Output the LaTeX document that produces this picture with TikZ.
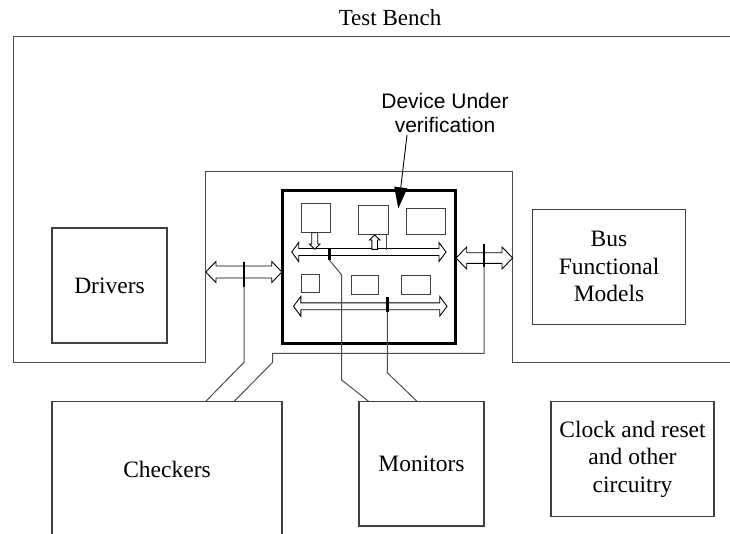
\documentclass[tikz,border=0pt]{standalone}
\usepackage{fontspec}
\setmainfont{Liberation Serif}
\newfontfamily\duvfont{Liberation Sans}
\usetikzlibrary{arrows.meta}

\tikzset{
  blk/.style={draw=black!75,line width=1.1pt,inner sep=0pt,align=center,font=\fontsize{23.5}{27.5}\selectfont},
  sub/.style={draw=black!75,line width=1pt,inner sep=0pt},
  wire/.style={black!70,line width=1pt},
  tickmark/.style={line width=2.6pt},
  hollow/.style={draw=black,fill=white,line width=0.9pt,line join=miter},
}

% hollow double arrow: x1, x2, y centre, shaft half, head half, head length
\newcommand\busarrow[6]{%
  \draw[hollow] (#1,#3) -- ({#1+#6},{#3-#5}) -- ({#1+#6},{#3-#4}) -- ({#2-#6},{#3-#4})
    -- ({#2-#6},{#3-#5}) -- (#2,#3) -- ({#2-#6},{#3+#5}) -- ({#2-#6},{#3+#4})
    -- ({#1+#6},{#3+#4}) -- ({#1+#6},{#3+#5}) -- cycle;}
% hollow single arrow, vertical: x, y tail, y head base, y tip, shaft half, head half
\newcommand\vhollow[6]{%
  \draw[hollow] ({#1-#5},#2) -- ({#1-#5},#3) -- ({#1-#6},#3) -- (#1,#4)
    -- ({#1+#6},#3) -- ({#1+#5},#3) -- ({#1+#5},#2) -- cycle;}

\begin{document}
\begin{tikzpicture}[x=1pt,y=-1pt]
\useasboundingbox (0,0) rectangle (730,533);

\node[font=\fontsize{23}{27}\selectfont] (tb) at (390,18) {Test Bench};
\draw[wire] (730,36) -- (13,36) -- (13,362) -- (205.7,362) -- (205.7,171.7)
  -- (512.7,171.7) -- (512.7,362) -- (730,362);

% outside blocks
\node[blk,minimum width=115,minimum height=115] (drv) at (109.5,285.5) {Drivers};
\node[blk,minimum width=153.4,minimum height=115.3] (bfm) at (609,266.7) {Bus\\Functional\\Models};
\node[blk,minimum width=230,minimum height=160] (chk) at (167,481.7) {};
\node[font=\fontsize{23.5}{27.5}\selectfont] (chklbl) at (167,469) {Checkers};
\node[blk,minimum width=125,minimum height=124.3] (mon) at (421.5,463.8) {Monitors};
\node[blk,minimum width=163,minimum height=115] (clk) at (632.5,459.2) {Clock and reset\\and other\\circuitry};

% device under verification
\node[draw,line width=3pt,minimum width=173,minimum height=153,inner sep=0pt] (duv) at (369.2,267) {};
\node[sub,minimum width=29,minimum height=28.7] (sub1) at (316.2,218.3) {};
\node[sub,minimum width=30,minimum height=29.3] (sub2) at (373.3,220.3) {};
\node[sub,minimum width=38.7,minimum height=25.7] (sub3) at (426.3,221.2) {};
\node[sub,minimum width=17.6,minimum height=17.7] (sub4) at (310.5,283.8) {};
\node[sub,minimum width=27.3,minimum height=19.3] (sub5) at (364.7,284.7) {};
\node[sub,minimum width=29.3,minimum height=19.3] (sub6) at (415.7,284.7) {};

\busarrow{291.7}{446}{252}{3.5}{9.5}{7}
\busarrow{293.5}{447}{306.3}{3.4}{9.8}{7.3}
\busarrow{205.7}{282}{272}{6}{10.5}{10.3}
\busarrow{456}{512.7}{258}{5.3}{11}{10.7}

\vhollow{314.7}{232.7}{244}{249.3}{3}{5.3}
\vhollow{374.7}{249.3}{240}{235}{2.8}{5.3}
\draw[wire] ([xshift=-2.6pt]sub2.south east) -- ++(0,14.3);

% wires to checkers and monitors
\draw[tickmark] (244,261.7) -- (244,286.7);
\draw[wire] (244,286.7) -- (244,362.3) -- (chk.north west -| 206,0);
\draw[tickmark] (484,244) -- (484,266.7);
\draw[wire] (484,266.7) -- (484,353.3) -- (272.7,353.3) -- (272.7,362.3) -- (chk.north west -| 234.3,0);
\draw[tickmark] (329.3,248) -- (329.3,260);
\draw[wire] (329.3,260) -- (341.7,275) -- (341.7,380) -- (mon.north west -| 368.3,0);
\draw[tickmark] (387.3,296.7) -- (387.3,311.7);
\draw[wire] (387.3,311.7) -- (387.3,372.7) -- (mon.north west -| 416.7,0);

% label and pointer
\node[font=\duvfont\fontsize{21}{23.3}\selectfont,align=center,inner sep=0pt] (duvlbl) at (445,113) {Device Under\\verification};
\coordinate (duvtail) at (407,135);
\coordinate (duvtip) at (398.3,208.3);
\draw[line width=0.9pt,-{Triangle[length=21pt,width=13pt]}] (duvtail) -- (duvtip);

\end{tikzpicture}
\end{document}
